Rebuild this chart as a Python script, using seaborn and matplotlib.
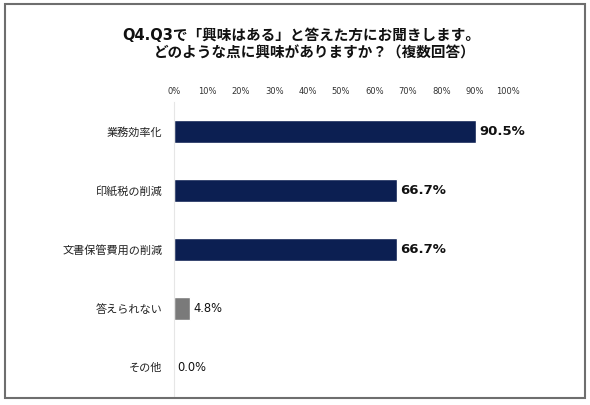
import matplotlib
matplotlib.use("Agg")
import matplotlib.pyplot as plt
import seaborn as sns
import pandas as pd
from matplotlib.patches import Rectangle

categories = ["業務効率化", "印紙税の削減", "文書保管費用の削減", "答えられない", "その他"]
values = [90.5, 66.7, 66.7, 4.8, 0.0]
bar_colors = ["#0c1f52", "#0c1f52", "#0c1f52", "#7a7a7a", "#7a7a7a"]
tick_vals = [0, 10, 20, 30, 40, 50, 60, 70, 80, 90, 100]
tick_labels = ["0%", "10%", "20%", "30%", "40%", "50%", "60%", "70%", "80%", "90%", "100%"]
title_1 = "Q4.Q3で「興味はある」と答えた方にお聞きします。"
title_2 = "どのような点に興味がありますか？（複数回答）"

sns.set_style("white")
plt.rcParams['font.family'] = ['Noto Sans CJK JP', 'DejaVu Sans']
latin = ['DejaVu Sans', 'Noto Sans CJK JP']

df = pd.DataFrame({"item": categories, "pct": values})

fig = plt.figure(figsize=(5.9, 4.05), dpi=100)
ax = fig.add_axes([0.295, 0.021, 0.566, 0.727])

sns.barplot(data=df, x="pct", y="item", hue="item", palette=bar_colors,
            legend=False, width=0.39, ax=ax, saturation=1)

ax.set_xlim(0, 100)
ax.set_xticks(tick_vals)
ax.set_xticklabels(tick_labels, fontsize=6, color="#333333", family=latin)
ax.xaxis.tick_top()
ax.tick_params(axis="x", length=0, pad=4.5)
ax.tick_params(axis="y", length=0, pad=8.5, labelsize=8)
for lab in ax.get_yticklabels():
    lab.set_color("#222222")
ax.set_xlabel("")
ax.set_ylabel("")
for s in ["top", "right", "bottom"]:
    ax.spines[s].set_visible(False)
ax.spines["left"].set_color("#e6e6e6")
ax.spines["left"].set_linewidth(0.8)

for i, v in enumerate(values):
    big = v > 50
    ax.text(v + 0.9, i, f"{v:.1f}%", va="center", ha="left",
            fontsize=9.5 if big else 8.3,
            fontweight="bold" if big else "normal", color="#111111",
            family=latin)

fig.text(301 / 590, 1 - 36 / 405, title_1, ha="center", va="center",
         fontsize=10.5, fontweight="bold", color="#111111", family=latin)
fig.text(315 / 590, 1 - 53 / 405, title_2, ha="center", va="center",
         fontsize=10.5, fontweight="bold", color="#111111", family=latin)

fig.patches.append(Rectangle((5 / 590, 7 / 405), 580 / 590, 394 / 405,
                             transform=fig.transFigure, fill=False,
                             edgecolor="#6e6e6e", linewidth=1.5))

fig.savefig("out.png", dpi=100)
